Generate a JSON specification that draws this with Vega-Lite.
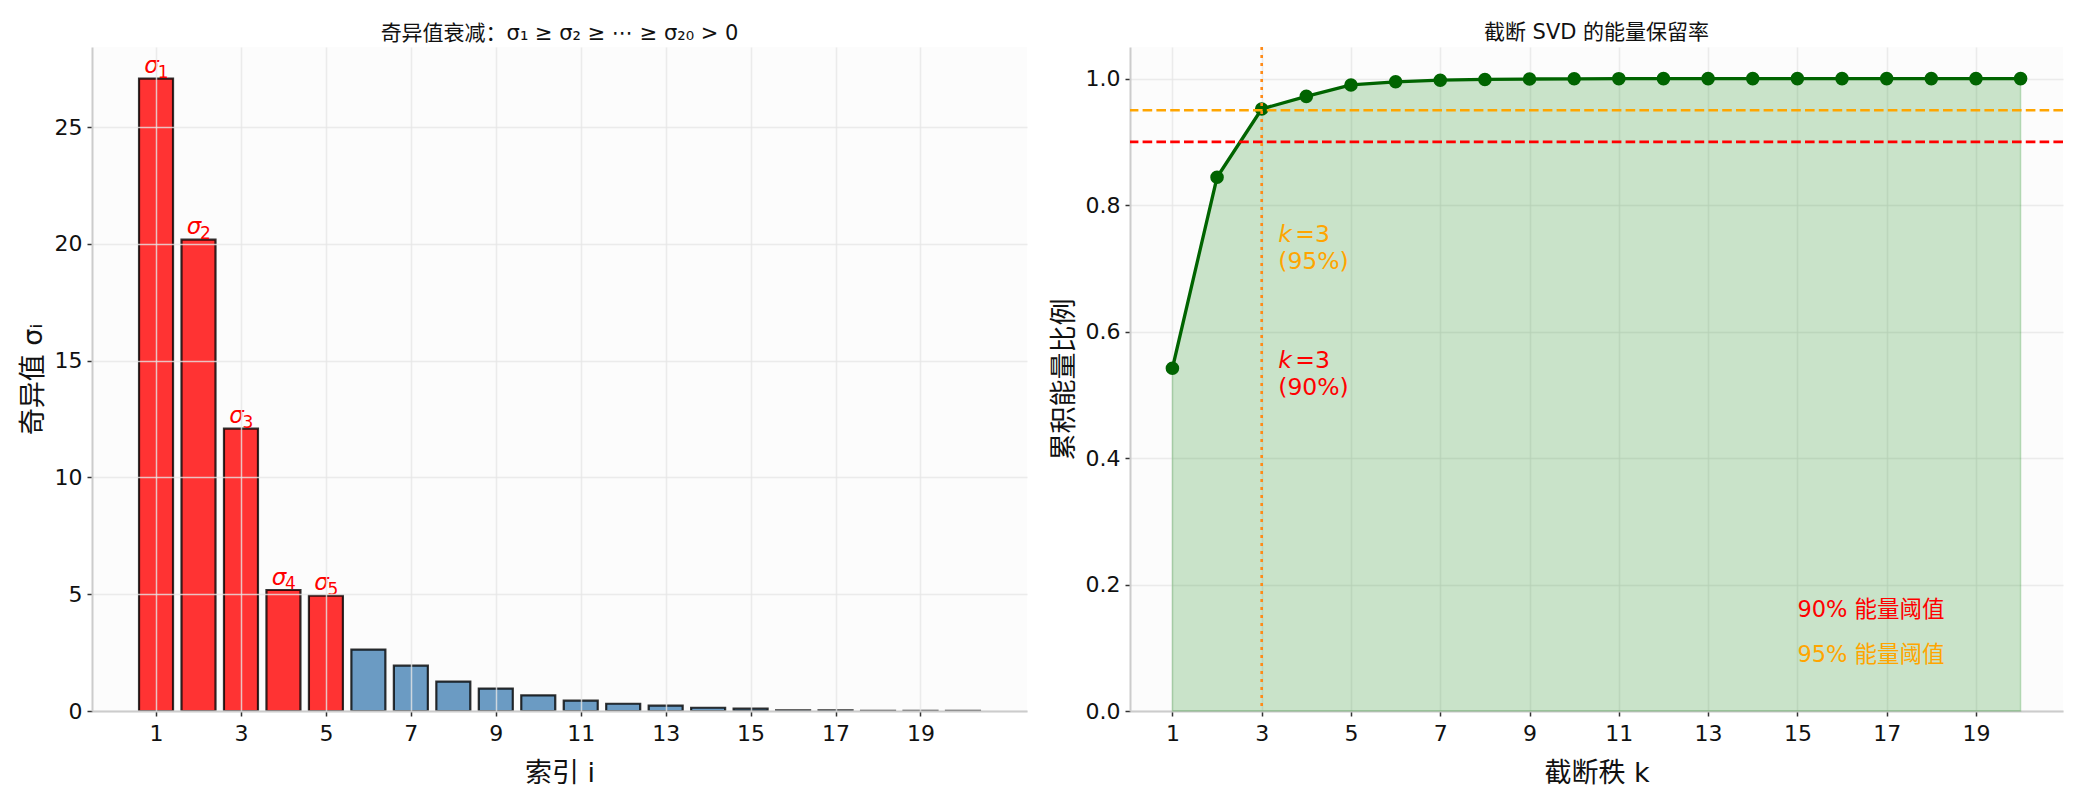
{
  "$schema": "https://vega.github.io/schema/vega-lite/v6.json",
  "background": "white",
  "padding": {"left": 19, "top": 21, "right": 10, "bottom": 4},
  "spacing": 23,
  "resolve": {"scale": {"color": "independent"}},
  "config": {
    "font": "DejaVu Sans, Noto Sans CJK SC",
    "view": {"fill": "#fcfcfc", "stroke": null},
    "axis": {
      "domainColor": "#cccccc",
      "domainWidth": 2,
      "tickColor": "#333333",
      "tickSize": 5,
      "tickWidth": 1.5,
      "labelFont": "DejaVu Sans, Noto Sans CJK SC",
      "labelFontSize": 22,
      "labelColor": "#111111",
      "labelPadding": 5,
      "titleFont": "DejaVu Sans, Noto Sans CJK SC",
      "titleFontSize": 27,
      "titleFontWeight": "normal",
      "titleColor": "#111111",
      "gridColor": "#e6e6e6",
      "gridOpacity": 0.8,
      "gridWidth": 1.5
    },
    "axisX": {"labelPadding": 7, "titlePadding": 16},
    "axisY": {"titlePadding": 7},
    "title": {"font": "DejaVu Sans, Noto Sans CJK SC", "fontSize": 21, "fontWeight": "normal", "color": "#111111", "offset": 3}
  },
  "hconcat": [
    {
      "width": 935,
      "height": 664,
      "title": {"text": "奇异值衰减：σ₁ ≥ σ₂ ≥ ⋯ ≥ σ₂₀ > 0"},
      "data": {
        "values": [
          {"i": 1, "sigma": 27.08, "group": "top", "sub": "1"},
          {"i": 2, "sigma": 20.18, "group": "top", "sub": "2"},
          {"i": 3, "sigma": 12.09, "group": "top", "sub": "3"},
          {"i": 4, "sigma": 5.18, "group": "top", "sub": "4"},
          {"i": 5, "sigma": 4.94, "group": "top", "sub": "5"},
          {"i": 6, "sigma": 2.63, "group": "rest", "sub": ""},
          {"i": 7, "sigma": 1.94, "group": "rest", "sub": ""},
          {"i": 8, "sigma": 1.26, "group": "rest", "sub": ""},
          {"i": 9, "sigma": 0.96, "group": "rest", "sub": ""},
          {"i": 10, "sigma": 0.67, "group": "rest", "sub": ""},
          {"i": 11, "sigma": 0.44, "group": "rest", "sub": ""},
          {"i": 12, "sigma": 0.31, "group": "rest", "sub": ""},
          {"i": 13, "sigma": 0.23, "group": "rest", "sub": ""},
          {"i": 14, "sigma": 0.14, "group": "rest", "sub": ""},
          {"i": 15, "sigma": 0.1, "group": "rest", "sub": ""},
          {"i": 16, "sigma": 0.03, "group": "rest", "sub": ""},
          {"i": 17, "sigma": 0.03, "group": "rest", "sub": ""},
          {"i": 18, "sigma": 0.005, "group": "rest", "sub": ""},
          {"i": 19, "sigma": 0.004, "group": "rest", "sub": ""},
          {"i": 20, "sigma": 0.003, "group": "rest", "sub": ""}
        ]
      },
      "encoding": {
        "x": {
          "field": "i",
          "type": "quantitative",
          "scale": {"domain": [-0.39, 21.39], "nice": false, "zero": false},
          "axis": {"values": [1, 3, 5, 7, 9, 11, 13, 15, 17, 19], "title": "索引 i", "zindex": 1}
        },
        "y": {
          "field": "sigma",
          "type": "quantitative",
          "scale": {"domain": [0, 28.43], "nice": false},
          "axis": {"values": [0, 5, 10, 15, 20, 25], "title": "奇异值 σᵢ", "zindex": 1}
        }
      },
      "layer": [
        {
          "mark": {"type": "bar", "width": 34, "stroke": "#000000", "strokeOpacity": 0.8, "strokeWidth": 2.2, "fillOpacity": 0.8},
          "encoding": {
            "color": {
              "field": "group",
              "type": "nominal",
              "scale": {"domain": ["top", "rest"], "range": ["#ff0000", "#4682b4"]},
              "legend": null
            }
          }
        },
        {
          "transform": [{"filter": "datum.group === 'top'"}],
          "mark": {"type": "text", "color": "#ff0000", "fontSize": 23, "fontStyle": "italic", "align": "center", "baseline": "alphabetic", "dx": -4.5, "dy": -5.5},
          "encoding": {"text": {"value": "σ"}}
        },
        {
          "transform": [{"filter": "datum.group === 'top'"}],
          "mark": {"type": "text", "color": "#ff0000", "fontSize": 17, "align": "center", "baseline": "alphabetic", "dx": 7, "dy": -1},
          "encoding": {"text": {"field": "sub"}}
        }
      ]
    },
    {
      "width": 933,
      "height": 664,
      "title": {"text": "截断 SVD 的能量保留率"},
      "resolve": {"scale": {"color": "shared"}},
      "layer": [
        {
          "data": {
            "values": [
              {"k": 1, "energy": 0.542},
              {"k": 2, "energy": 0.844},
              {"k": 3, "energy": 0.952},
              {"k": 4, "energy": 0.972},
              {"k": 5, "energy": 0.99},
              {"k": 6, "energy": 0.995},
              {"k": 7, "energy": 0.9975},
              {"k": 8, "energy": 0.9987},
              {"k": 9, "energy": 0.9994},
              {"k": 10, "energy": 0.9997},
              {"k": 11, "energy": 0.9999},
              {"k": 12, "energy": 0.99995},
              {"k": 13, "energy": 0.99998},
              {"k": 14, "energy": 1.0},
              {"k": 15, "energy": 1.0},
              {"k": 16, "energy": 1.0},
              {"k": 17, "energy": 1.0},
              {"k": 18, "energy": 1.0},
              {"k": 19, "energy": 1.0},
              {"k": 20, "energy": 1.0}
            ]
          },
          "encoding": {
            "x": {
              "field": "k",
              "type": "quantitative",
              "scale": {"domain": [0.05, 20.95], "nice": false, "zero": false},
              "axis": {"values": [1, 3, 5, 7, 9, 11, 13, 15, 17, 19], "title": "截断秩 k"}
            },
            "y": {
              "field": "energy",
              "type": "quantitative",
              "scale": {"domain": [0, 1.05], "nice": false},
              "axis": {"values": [0, 0.2, 0.4, 0.6, 0.8, 1.0], "format": ".1f", "title": "累积能量比例"}
            }
          },
          "layer": [
            {"mark": {"type": "area", "color": "#008000", "fillOpacity": 0.2, "stroke": "#008000", "strokeOpacity": 0.2, "strokeWidth": 1.5}},
            {"mark": {"type": "line", "color": "#006400", "strokeWidth": 3.3}},
            {"mark": {"type": "point", "filled": true, "color": "#006400", "opacity": 1, "size": 185}}
          ]
        },
        {
          "data": {"values": [{"level": 0.9, "name": "90%"}, {"level": 0.95, "name": "95%"}]},
          "mark": {"type": "rule", "strokeWidth": 2.6, "strokeDash": [9.6, 4.2]},
          "encoding": {
            "y": {"field": "level", "type": "quantitative"},
            "color": {"field": "name", "type": "nominal", "scale": {"domain": ["90%", "95%"], "range": ["#ff0000", "#ffa500"]}, "legend": null}
          }
        },
        {
          "data": {"values": [{"k": 3}]},
          "mark": {"type": "rule", "color": "#ff8b17", "strokeWidth": 2.6, "strokeDash": [3, 5]},
          "encoding": {"x": {"field": "k", "type": "quantitative"}}
        },
        {
          "data": {"values": [{"x": 3.37, "y": 0.753, "name": "95%"}, {"x": 3.37, "y": 0.553, "name": "90%"}]},
          "mark": {"type": "text", "fontSize": 23.5, "fontStyle": "italic", "align": "left", "baseline": "middle"},
          "encoding": {
            "x": {"field": "x", "type": "quantitative"},
            "y": {"field": "y", "type": "quantitative"},
            "text": {"value": "k"},
            "color": {"field": "name", "type": "nominal", "legend": null}
          }
        },
        {
          "data": {"values": [{"x": 3.37, "y": 0.753, "name": "95%"}, {"x": 3.37, "y": 0.553, "name": "90%"}]},
          "mark": {"type": "text", "fontSize": 23.5, "align": "left", "baseline": "middle", "dx": 17},
          "encoding": {
            "x": {"field": "x", "type": "quantitative"},
            "y": {"field": "y", "type": "quantitative"},
            "text": {"value": "=3"},
            "color": {"field": "name", "type": "nominal", "legend": null}
          }
        },
        {
          "data": {"values": [{"x": 3.37, "y": 0.71, "text": "(95%)", "name": "95%"}, {"x": 3.37, "y": 0.51, "text": "(90%)", "name": "90%"}]},
          "mark": {"type": "text", "fontSize": 23.5, "align": "left", "baseline": "middle"},
          "encoding": {
            "x": {"field": "x", "type": "quantitative"},
            "y": {"field": "y", "type": "quantitative"},
            "text": {"field": "text"},
            "color": {"field": "name", "type": "nominal", "legend": null}
          }
        },
        {
          "data": {"values": [{"x": 15, "y": 0.16, "text": "90% 能量阈值", "name": "90%"}, {"x": 15, "y": 0.089, "text": "95% 能量阈值", "name": "95%"}]},
          "mark": {"type": "text", "fontSize": 22.5, "align": "left", "baseline": "middle"},
          "encoding": {
            "x": {"field": "x", "type": "quantitative"},
            "y": {"field": "y", "type": "quantitative"},
            "text": {"field": "text"},
            "color": {"field": "name", "type": "nominal", "legend": null}
          }
        }
      ]
    }
  ]
}
